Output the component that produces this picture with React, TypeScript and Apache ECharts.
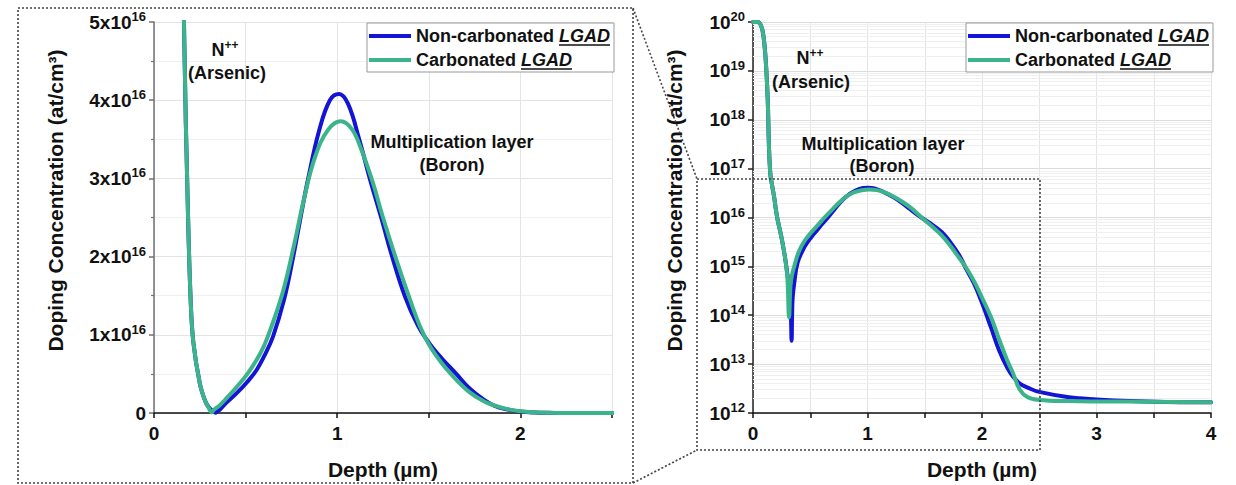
import React, { useEffect, useRef } from 'react';
import * as echarts from 'echarts';

// ---- Data ----
const seriesNames = ['Non-carbonated LGAD', 'Carbonated LGAD'];

const blueDepth = [0, 0.04, 0.07, 0.09, 0.11, 0.128, 0.14, 0.152, 0.165, 0.185, 0.2, 0.215, 0.25, 0.28, 0.3, 0.318, 0.33, 0.337, 0.345, 0.36, 0.39, 0.45, 0.51, 0.56, 0.6, 0.65, 0.71, 0.76, 0.8, 0.84, 0.9, 0.96, 1.01, 1.06, 1.12, 1.18, 1.24, 1.3, 1.37, 1.44, 1.5, 1.57, 1.65, 1.72, 1.8, 1.86, 1.93, 2.0, 2.08, 2.15, 2.22, 2.27, 2.33, 2.4, 2.5, 2.76, 3.0, 3.3, 3.6, 4.0];
const blueConc = [1.0e20, 1.0e20, 8.5e19, 5.4e19, 1.8e19, 2.8e18, 2.6e17, 7.5e16, 4.8e16, 2.6e16, 1.45e16, 9.0e15, 3.8e15, 1.5e15, 7.0e14, 3.0e14, 1.2e14, 3.0e13, 2.0e14, 4.5e14, 1.2e15, 2.5e15, 4.0e15, 5.5e15, 7.2e15, 9.8e15, 1.45e16, 2.0e16, 2.5e16, 2.98e16, 3.6e16, 4.0e16, 4.08e16, 3.95e16, 3.5e16, 2.98e16, 2.5e16, 2.0e16, 1.49e16, 1.12e16, 9.0e15, 7.0e15, 5.0e15, 3.2e15, 1.7e15, 9.0e14, 4.5e14, 1.8e14, 5.5e13, 1.9e13, 8.5e12, 5.6e12, 4.0e12, 3.3e12, 2.7e12, 2.1e12, 1.9e12, 1.75e12, 1.68e12, 1.65e12];

const greenDepth = [0, 0.04, 0.07, 0.09, 0.11, 0.128, 0.14, 0.152, 0.165, 0.185, 0.2, 0.215, 0.25, 0.28, 0.3, 0.315, 0.327, 0.34, 0.36, 0.4, 0.45, 0.51, 0.58, 0.62, 0.7, 0.76, 0.82, 0.88, 0.95, 1.02, 1.08, 1.13, 1.19, 1.25, 1.32, 1.39, 1.45, 1.5, 1.57, 1.64, 1.72, 1.8, 1.86, 1.93, 2.0, 2.08, 2.15, 2.22, 2.27, 2.33, 2.4, 2.5, 2.76, 3.0, 3.5, 4.0];
const greenConc = [1.0e20, 1.0e20, 8.5e19, 5.4e19, 1.8e19, 2.8e18, 2.6e17, 7.5e16, 4.8e16, 2.6e16, 1.45e16, 9.0e15, 3.8e15, 1.5e15, 6.0e14, 9.0e13, 4.0e14, 6.5e14, 1.0e15, 2.0e15, 3.3e15, 5.0e15, 7.6e15, 9.7e15, 1.52e16, 2.1e16, 2.75e16, 3.28e16, 3.62e16, 3.73e16, 3.63e16, 3.38e16, 2.98e16, 2.5e16, 1.98e16, 1.5e16, 1.12e16, 8.8e15, 6.4e15, 4.5e15, 2.7e15, 1.5e15, 9.5e14, 5.0e14, 2.3e14, 9.0e13, 3.2e13, 1.2e13, 6.6e12, 3.0e12, 2.1e12, 1.85e12, 1.75e12, 1.72e12, 1.7e12, 1.65e12];

const linYMax = 5e16;
const linXMax = 2.5;
const logYMin = 1e12;
const logYMax = 1e20;
const logXMax = 4;
const logDecades = [12, 13, 14, 15, 16, 17, 18, 19];
const minorMultipliers = [2, 3, 4, 5, 6, 7, 8, 9];

const BLUE = '#1414d6';
const GREEN = '#3cb48a';
const FONT = '"Liberation Sans", Arial, Helvetica, sans-serif';
const TXT = '#111';

const zip = (xs: number[], ys: number[]) => xs.map((x, i) => [x, ys[i]]);

function measure(text: string, font: string): number {
  const c = document.createElement('canvas');
  const ctx = c.getContext('2d');
  if (!ctx) return text.length * 10;
  ctx.font = font;
  return ctx.measureText(text).width;
}

export default function App() {
  const ref = useRef<HTMLDivElement>(null);

  useEffect(() => {
    if (!ref.current) return;
    const chart = echarts.init(ref.current, null, { renderer: 'svg' });

    const tickRich = {
      a: { fontSize: 19, fontWeight: 'bold', color: TXT, fontFamily: FONT, lineHeight: 24 },
      s: { fontSize: 13, fontWeight: 'bold', color: TXT, fontFamily: FONT, lineHeight: 13, verticalAlign: 'top' },
    };
    const legendRich = {
      n: { fontSize: 18, fontWeight: 'bold', color: TXT, fontFamily: FONT, lineHeight: 20 },
      i: { fontSize: 18, fontWeight: 'bold', fontStyle: 'italic', color: TXT, fontFamily: FONT, lineHeight: 20 },
    };
    const annRich = {
      a: { fontSize: 18, fontWeight: 'bold', fill: TXT, fontFamily: FONT, lineHeight: 22 },
      s: { fontSize: 12, fontWeight: 'bold', fill: TXT, fontFamily: FONT, lineHeight: 12, verticalAlign: 'top' },
    };

    const axisTitle = { fontSize: 21, fontWeight: 'bold', color: TXT, fontFamily: FONT };

    const makeX = (gi: number, max: number) => ({
      gridIndex: gi,
      type: 'value',
      min: 0,
      max,
      interval: 0.5,
      name: 'Depth (µm)',
      nameLocation: 'middle',
      nameGap: 46,
      nameTextStyle: axisTitle,
      axisLine: { show: true, onZero: false, lineStyle: { color: '#111', width: 1.5 } },
      axisTick: { show: true, length: 5, lineStyle: { color: '#111', width: 1.5 } },
      axisLabel: {
        formatter: (v: number) => (Number.isInteger(v) ? String(v) : ''),
        fontSize: 19, fontWeight: 'bold', color: TXT, fontFamily: FONT, margin: 11,
      },
      splitLine: { show: true, lineStyle: { color: '#e4e4e4', width: 1 } },
    });

    const minorLines: any[] = [];
    logDecades.forEach((e) => minorMultipliers.forEach((k) => minorLines.push({ yAxis: k * Math.pow(10, e) })));

    const lineSeries = (name: string, gi: number, xs: number[], ys: number[], color: string, z: number, extra: any = {}) => ({
      name,
      type: 'line',
      xAxisIndex: gi,
      yAxisIndex: gi,
      data: zip(xs, ys),
      showSymbol: false,
      symbol: 'none',
      smooth: 0.4,
      clip: true,
      lineStyle: { color, width: 4, join: 'round', cap: 'round' },
      itemStyle: { color },
      z,
      ...extra,
    });

    const legendBase = {
      data: seriesNames,
      orient: 'vertical',
      top: 23,
      icon: 'rect',
      itemWidth: 42,
      itemHeight: 4,
      itemGap: 4,
      padding: [3, 4, 2, 2],
      backgroundColor: '#fff',
      borderColor: '#999',
      borderWidth: 1,
      selectedMode: false,
      formatter: (name: string) => name.replace(/^(.*?)(LGAD)$/, '{n|$1}{i|$2}'),
      textStyle: { fontSize: 18, fontWeight: 'bold', color: TXT, fontFamily: FONT, lineHeight: 20, rich: legendRich },
    };

    // underline of "LGAD" in the legends
    const wNon = measure('Non-carbonated ', `bold 18px ${FONT}`);
    const wCarb = measure('Carbonated ', `bold 18px ${FONT}`);
    const wL = measure('LGAD', `italic bold 18px ${FONT}`);
    const underline = (lx: number) => {
      const x0 = lx + 2 + 42 + 5;
      return [
        { type: 'line', shape: { x1: x0 + wNon, y1: 45, x2: x0 + wNon + wL, y2: 45 }, style: { stroke: TXT, lineWidth: 1.5 }, z: 100 },
        { type: 'line', shape: { x1: x0 + wCarb, y1: 69, x2: x0 + wCarb + wL, y2: 69 }, style: { stroke: TXT, lineWidth: 1.5 }, z: 100 },
      ];
    };

    const dot = { fill: 'none', stroke: '#444', lineWidth: 1.6, lineDash: [2, 2] };
    const ann = (text: string, x: number, y: number) => ({
      type: 'text', x, y, z: 50,
      style: { text, rich: annRich, fontSize: 18, fontWeight: 'bold', fill: TXT, fontFamily: FONT, align: 'center', verticalAlign: 'middle' },
    });

    chart.setOption({
      animation: false,
      backgroundColor: '#fff',
      grid: [
        { left: 154, top: 22, width: 458, height: 391 },
        { left: 753, top: 22, width: 458, height: 391 },
      ],
      xAxis: [makeX(0, linXMax), makeX(1, logXMax)],
      yAxis: [
        {
          gridIndex: 0,
          type: 'value',
          min: 0,
          max: linYMax,
          interval: 1e16,
          name: 'Doping Concentration (at/cm³)',
          nameLocation: 'middle',
          nameGap: 88,
          nameTextStyle: { ...axisTitle, padding: [0, 0, 0, 34] },
          axisLine: { show: true, lineStyle: { color: '#707070', width: 1.5 } },
          axisTick: { show: true, length: 5, lineStyle: { color: '#707070', width: 1.5 } },
          minorTick: { show: true, splitNumber: 2, length: 3, lineStyle: { color: '#707070', width: 1.2 } },
          splitLine: { show: true, lineStyle: { color: '#e4e4e4' } },
          minorSplitLine: { show: true, lineStyle: { color: '#f0f0f0' } },
          axisLabel: {
            formatter: (v: number) => (v === 0 ? '{a|0}' : `{a|${Math.round(v / 1e16)}x10}{s|16}`),
            rich: tickRich, margin: 8,
          },
        },
        {
          gridIndex: 1,
          type: 'log',
          logBase: 10,
          min: logYMin,
          max: logYMax,
          splitNumber: 8,
          name: 'Doping Concentration (at/cm³)',
          nameLocation: 'middle',
          nameGap: 68,
          nameTextStyle: { ...axisTitle, padding: [0, 0, 0, 34] },
          axisLine: { show: true, lineStyle: { color: '#222', width: 1.5 } },
          axisTick: { show: true, length: 5, lineStyle: { color: '#222', width: 1.5 } },
          splitLine: { show: true, lineStyle: { color: '#dcdcdc' } },
          axisLabel: {
            formatter: (v: number) => `{a|10}{s|${Math.round(Math.log10(v))}}`,
            rich: tickRich, margin: 8,
          },
        },
      ],
      legend: [
        { ...legendBase, left: 367 },
        { ...legendBase, left: 966 },
      ],
      series: [
        lineSeries(seriesNames[0], 0, blueDepth, blueConc, BLUE, 3),
        lineSeries(seriesNames[1], 0, greenDepth, greenConc, GREEN, 4),
        lineSeries(seriesNames[0], 1, blueDepth, blueConc, BLUE, 3, {
          markLine: {
            silent: true,
            symbol: ['none', 'none'],
            label: { show: false },
            lineStyle: { color: '#efefef', width: 1, type: 'solid' },
            z: 1,
            data: minorLines,
          },
        }),
        lineSeries(seriesNames[1], 1, greenDepth, greenConc, GREEN, 4),
      ],
      graphic: [
        { type: 'rect', shape: { x: 18, y: 8, width: 615, height: 475 }, style: dot, z: 60, silent: true },
        { type: 'rect', shape: { x: 697, y: 179, width: 343, height: 271 }, style: dot, z: 60, silent: true },
        { type: 'line', shape: { x1: 633, y1: 8, x2: 697, y2: 179 }, style: dot, z: 60, silent: true },
        { type: 'line', shape: { x1: 633, y1: 483, x2: 697, y2: 450 }, style: dot, z: 60, silent: true },
        ann('{a|N}{s|++}', 225, 50),
        ann('(Arsenic)', 227, 73),
        ann('Multiplication layer', 452, 142),
        ann('(Boron)', 452, 165),
        ann('{a|N}{s|++}', 810, 58),
        ann('(Arsenic)', 811, 82),
        ann('Multiplication layer', 883, 144),
        ann('(Boron)', 882, 166),
        ...underline(367),
        ...underline(966),
      ],
    });

    return () => chart.dispose();
  }, []);

  return <div ref={ref} style={{ position: 'absolute', left: 0, top: 0, width: 1236, height: 485 }} />;
}
